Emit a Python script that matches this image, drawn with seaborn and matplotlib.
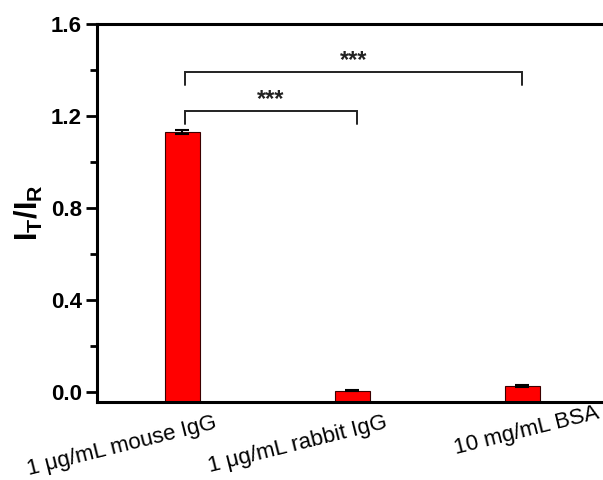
import matplotlib
matplotlib.use("Agg")
import matplotlib.pyplot as plt
import seaborn as sns
import pandas as pd
import numpy as np

# ---- data ----
categories = ["1 \u03bcg/mL mouse IgG", "1 \u03bcg/mL rabbit IgG", "10 mg/mL BSA"]
values = [1.13, 0.006, 0.025]
errors = [0.008, 0.003, 0.005]
yticks = [0.0, 0.4, 0.8, 1.2, 1.6]
sig_pairs = [(0, 1), (0, 2)]
sig_heights = [1.222, 1.391]
sig_labels = ["***", "***"]

sns.set_theme(style="ticks")
plt.rcParams["font.family"] = ["Liberation Sans", "DejaVu Sans"]
plt.rcParams["mathtext.fontset"] = "custom"
plt.rcParams["mathtext.bf"] = "Liberation Sans:bold"
plt.rcParams["mathtext.rm"] = "Liberation Sans"
plt.rcParams["mathtext.it"] = "Liberation Sans:italic"
for k in ["text.color", "axes.labelcolor", "xtick.color", "ytick.color"]:
    plt.rcParams[k] = "black"

fig = plt.figure(figsize=(6.03, 4.8), dpi=100)
ax = fig.add_axes([0.161, 0.1625, 0.846, 0.7875])

df = pd.DataFrame({"cat": categories, "val": values})
sns.barplot(data=df, x="cat", y="val", color="#FF0000", saturation=1,
            width=0.205, edgecolor="#3a0000", linewidth=0.8, errorbar=None, ax=ax)

ymin = -0.0435
# extend bars down to the axis bottom (as in the reference)
for p in ax.patches:
    top = p.get_y() + p.get_height()
    p.set_y(ymin)
    p.set_height(top - ymin)
    p.set_clip_on(False)

xs = np.arange(len(categories))
ax.errorbar(xs, values, yerr=errors, fmt="none", ecolor="black",
            elinewidth=1.5, capsize=5, capthick=1.5, zorder=5)

# significance brackets
leg = 0.057
for (a, b), h, lab in zip(sig_pairs, sig_heights, sig_labels):
    xa, xb = a + 0.015, b + (0.03 if b == 1 else 0.0)
    ax.plot([xa, xa, xb, xb], [h - leg, h, h, h - leg], color="#222222", lw=1.4,
            solid_joinstyle="miter", clip_on=False)
    ax.text((xa + xb) / 2, h + 0.0, lab, ha="center", va="bottom",
            fontsize=17, fontweight="bold", color="#222222")

ax.set_xlim(-0.5, 2.5)
ax.set_ylim(ymin, 1.6)
ax.set_yticks(yticks)
ax.set_yticklabels([f"{t:.1f}" for t in yticks], fontsize=16, fontweight="bold")
ax.set_yticks(np.arange(0.2, 1.6, 0.4), minor=True)
ax.tick_params(axis="y", which="major", length=8, width=2, direction="out", pad=3)
ax.tick_params(axis="y", which="minor", length=5, width=2, direction="out")
ax.tick_params(axis="x", length=0)
ax.set_xticks(xs)
ax.set_xticklabels([])
ax.set_xlabel("")
ax.set_ylabel(r"$\mathbf{I_T/I_R}$", fontsize=22, labelpad=4)

for s in ["left", "bottom", "top"]:
    ax.spines[s].set_linewidth(2.2)
    ax.spines[s].set_color("black")
ax.spines["right"].set_visible(False)

# rotated category labels
label_dx = [0.21, 0.21, 0.46]
label_dy = [-0.157, -0.157, -0.113]
for i, lab in enumerate(categories):
    ax.text(xs[i] + label_dx[i], label_dy[i], lab, rotation=14, ha="right",
            va="baseline", rotation_mode="anchor", fontsize=16, clip_on=False)

fig.savefig("out.png", dpi=100, facecolor="white")
